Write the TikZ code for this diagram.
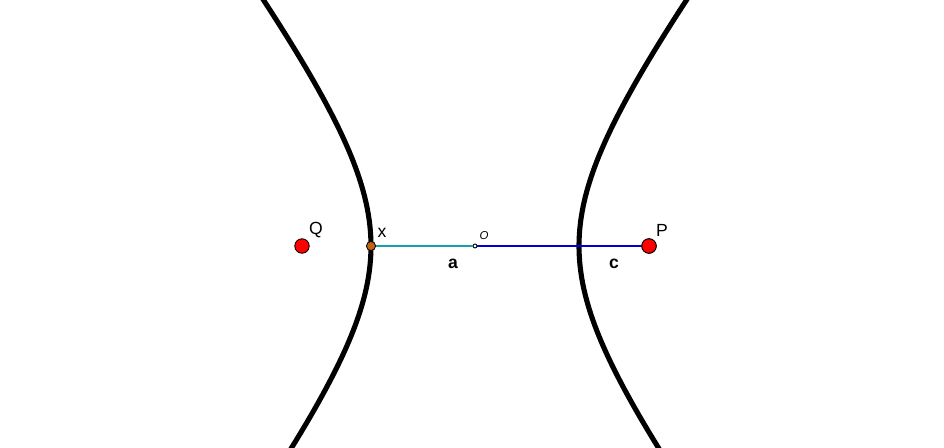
\documentclass[tikz,border=0pt]{standalone}
\usepackage{fontspec}
\setmainfont{Liberation Sans}
\usetikzlibrary{positioning}
\definecolor{focus}{HTML}{FF0000}
\definecolor{vertex}{HTML}{C0640F}
\definecolor{teal2}{HTML}{1A9FAF}
\definecolor{deepblue}{HTML}{0000D0}
\tikzset{
  curve/.style={line width=2.9pt,black},
  seg/.style={line width=1.6pt},
  focuspt/.style={circle,draw=black,fill=focus,line width=0.5pt,minimum size=0.29cm,inner sep=0pt},
  vertexpt/.style={circle,draw=black,fill=vertex,line width=0.4pt,minimum size=0.18cm,inner sep=0pt},
  centrept/.style={circle,draw=black,fill=white,line width=0.5pt,minimum size=0.08cm,inner sep=0pt},
  lbl/.style={font=\fontsize{10}{12}\selectfont},
  blbl/.style={font=\fontsize{10}{12}\selectfont\bfseries},
}
\begin{document}
\begin{tikzpicture}[x=0.02cm,y=-0.02cm]
  \useasboundingbox (0,0) rectangle (944,447);
  \clip (0,0) rectangle (944,447);
  % the two branches
  \draw[curve,domain=-1.4:1.2,samples=80,variable=\t]
    plot ({475-104*cosh(\t)},{246+138.9*sinh(\t)});
  \draw[curve,domain=-1.4:1.2,samples=80,variable=\t]
    plot ({475+104*cosh(\t)},{246+138.9*sinh(\t)});
  % points
  \node[centrept] (O) at (475,246) {};
  \node[vertexpt] (X) at (371,246) {};
  \node[focuspt] (Q) at (302,246) {};
  \node[focuspt] (P) at (649,246) {};
  \draw[seg,teal2] (X) -- (O);
  \draw[seg,deepblue] (O) -- (P);
  \node[vertexpt] at (X) {};
  \node[focuspt] at (P) {};
  % labels
  \node[lbl] (lQ) at (316,230) {Q};
  \node[lbl] (lX) at (382,233) {x};
  \node[lbl] (lP) at (662,230) {P};
  \node[font=\fontsize{6.5}{8}\selectfont\itshape] (lO) at (484,236) {O};
  \node[blbl] (la) at (453,264) {a};
  \node[blbl] (lc) at (614,264) {c};
\end{tikzpicture}
\end{document}
